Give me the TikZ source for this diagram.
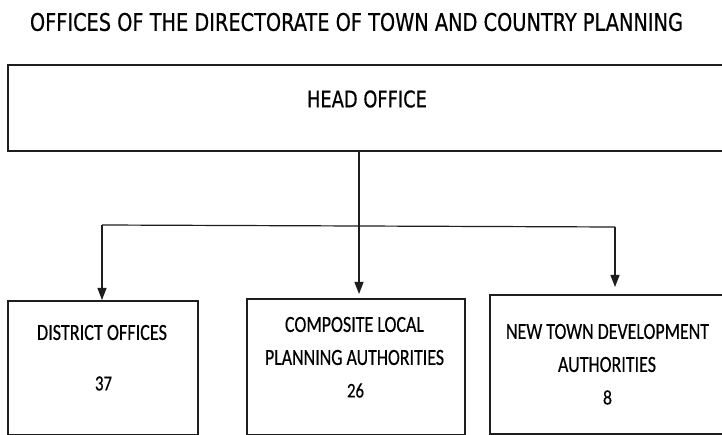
\documentclass[tikz,border=0pt]{standalone}
\usepackage{fontspec}
\usepackage{graphicx}
\usetikzlibrary{arrows.meta}
\newfontfamily\titlefont[FakeBold=0.6]{DejaVu Sans}
\newfontfamily\boxfont[FakeBold=0.5]{Carlito}
\newcommand\fitbox[3]{\resizebox{#1pt}{#2pt}{#3}}
\definecolor{ink}{HTML}{1E1E1E}
\tikzset{
  txt/.style={inner sep=0pt, outer sep=0pt, anchor=center, text=black},
  frame/.style={draw=ink, line width=1.8pt, fill=none, inner sep=0pt, anchor=north west},
  headframe/.style={draw=ink, line width=2.4pt, fill=none, inner sep=0pt, anchor=north west},
  link/.style={draw=ink, line width=1.2pt},
  arr/.style={link, -{Triangle[length=12pt,width=9pt]}}
}
\begin{document}
\begin{tikzpicture}[x=1pt,y=-1pt]
\useasboundingbox (0,0) rectangle (722,435);
\fill[white] (0,0) rectangle (722,435);
\clip (0,0) rectangle (722,435);
% title
\node[txt] (title) at (356.5,22) {\fitbox{653}{18}{\titlefont OFFICES OF THE DIRECTORATE OF TOWN AND COUNTRY PLANNING}};
% head office
\node[headframe, minimum width=728pt, minimum height=86pt] (head) at (7,64) {};
\node[txt] (headtxt) at (367,99) {\fitbox{120}{17}{\titlefont HEAD OFFICE}};
% lower boxes
\node[frame, minimum width=190pt, minimum height=134pt] (dist) at (7,300) {};
\node[frame, minimum width=218pt, minimum height=136pt] (comp) at (246,298) {};
\node[frame, minimum width=246pt, minimum height=139pt] (newt) at (489,294) {};
% texts
\node[txt] (d1) at (102,332.5) {\fitbox{130}{15}{\boxfont DISTRICT OFFICES}};
\node[txt] (d2) at (103.5,383.5) {\fitbox{17}{14}{\boxfont 37}};
\node[txt] (c1) at (354.5,324.5) {\fitbox{139}{15}{\boxfont COMPOSITE LOCAL}};
\node[txt] (c2) at (354.5,357.5) {\fitbox{179}{15}{\boxfont PLANNING AUTHORITIES}};
\node[txt] (c3) at (355.5,390.5) {\fitbox{17}{14}{\boxfont 26}};
\node[txt] (n1) at (607.5,331.5) {\fitbox{203}{15}{\boxfont NEW TOWN DEVELOPMENT}};
\node[txt] (n2) at (607,364.5) {\fitbox{98}{15}{\boxfont AUTHORITIES}};
\node[txt] (n3) at (607.5,397.5) {\fitbox{9}{14}{\boxfont 8}};
% connectors
\coordinate (jl) at (102,225);
\coordinate (jm) at (359,226);
\coordinate (jr) at (615,227);
\coordinate (tm) at (359,294);
\coordinate (tr) at (615,287);
\draw[link] (head.south -| jm) -- (jm);
\draw[link] (jl) -- (jm) -- (jr);
\draw[arr] (jl) -- (jl |- dist.north);
\draw[arr] (jm) -- (tm);
\draw[arr] (jr) -- (tr);
\end{tikzpicture}
\end{document}
